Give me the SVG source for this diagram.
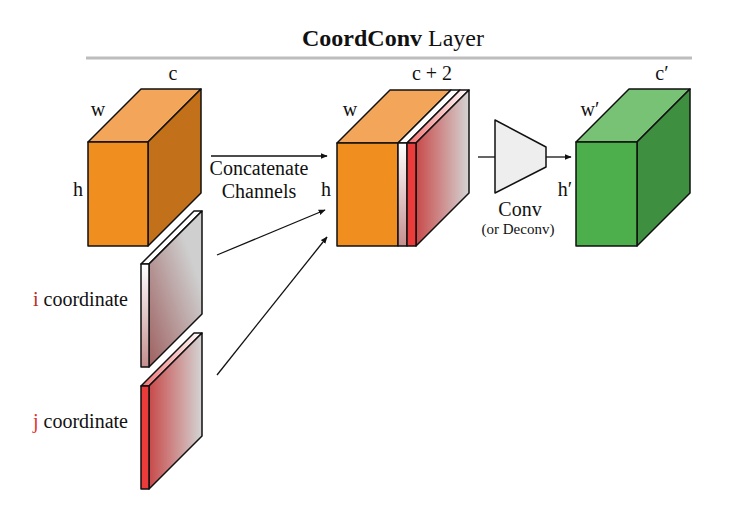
<svg xmlns="http://www.w3.org/2000/svg" width="739" height="512" viewBox="0 0 739 512">
<style>
text{font-family:"Liberation Serif","Times New Roman",serif;fill:#111;}
.lbl{font-size:20px;}
.sm{font-size:15px;}
.edge{stroke:#111;stroke-width:1.5;stroke-linejoin:round;}
.conn{stroke:#111;stroke-width:1.3;fill:none;marker-end:url(#ah);}
</style>
<defs>
<marker id="ah" viewBox="0 0 10 10" refX="9" refY="5" markerWidth="7" markerHeight="7" orient="auto" markerUnits="userSpaceOnUse">
<path d="M0,1 L10,5 L0,9 Z" fill="#111"/>
</marker>
<linearGradient id="iSide" x1="1" y1="0" x2="0" y2="1">
<stop offset="0.25" stop-color="#cfcfcf"/>
<stop offset="1" stop-color="#9e6060"/>
</linearGradient>
<linearGradient id="iFront" x1="0" y1="0" x2="0" y2="1">
<stop offset="0" stop-color="#ffffff"/>
<stop offset="1" stop-color="#c58e8e"/>
</linearGradient>
<linearGradient id="jSide" x1="0" y1="0" x2="1" y2="0">
<stop offset="0" stop-color="#c84a4a"/>
<stop offset="1" stop-color="#d4d4d4"/>
</linearGradient>
<linearGradient id="jTop" x1="0" y1="0" x2="1" y2="0">
<stop offset="0" stop-color="#f07070"/>
<stop offset="1" stop-color="#ffffff"/>
</linearGradient>
</defs>

<g id="title">
<text x="393" y="46" text-anchor="middle" style="font-size:24px"><tspan font-weight="bold">CoordConv</tspan> Layer</text>
<line x1="86" y1="58" x2="692" y2="58" stroke="#bdbdbd" stroke-width="3"/>
</g>

<g id="input-cube">
<polygon class="edge" points="88,142 148,142 201,89 141,89" fill="#f3a65a"/>
<polygon class="edge" points="148,142 201,89 201,193 148,246" fill="#c2701a"/>
<rect class="edge" x="88" y="142" width="60" height="104" fill="#f08f20"/>
<text class="lbl" x="98" y="116" text-anchor="middle">w</text>
<text class="lbl" x="173" y="80" text-anchor="middle">c</text>
<text class="lbl" x="78" y="196" text-anchor="middle">h</text>
</g>

<g id="i-coordinate">
<polygon class="edge" points="141,264 149,264 202,211 194,211" fill="#ffffff"/>
<polygon class="edge" points="149,264 202,211 202,314 149,367" fill="url(#iSide)"/>
<rect class="edge" x="141" y="264" width="8" height="103" fill="url(#iFront)"/>
<text class="lbl" x="33" y="306"><tspan fill="#b52a2a">i</tspan> coordinate</text>
</g>

<g id="j-coordinate">
<polygon class="edge" points="141,386 149,386 202,333 194,333" fill="url(#jTop)"/>
<polygon class="edge" points="149,386 202,333 202,436 149,489" fill="url(#jSide)"/>
<rect class="edge" x="141" y="386" width="8" height="103" fill="#ec3b3b"/>
<text class="lbl" x="33" y="428"><tspan fill="#e03030">j</tspan> coordinate</text>
</g>

<g id="concat-cube">
<polygon class="edge" points="337,143 398,143 451,90 390,90" fill="#f3a65a"/>
<polygon class="edge" points="398,143 407,143 460,90 451,90" fill="#ffffff"/>
<polygon class="edge" points="407,143 416,143 469,90 460,90" fill="url(#jTop)"/>
<polygon class="edge" points="416,143 469,90 469,193 416,246" fill="url(#jSide)"/>
<rect class="edge" x="337" y="143" width="61" height="103" fill="#f08f20"/>
<rect class="edge" x="398" y="143" width="9" height="103" fill="url(#iFront)"/>
<rect class="edge" x="407" y="143" width="9" height="103" fill="#ec3b3b"/>
<text class="lbl" x="350" y="116" text-anchor="middle">w</text>
<text class="lbl" x="432" y="80" text-anchor="middle">c + 2</text>
<text class="lbl" x="326" y="196" text-anchor="middle">h</text>
</g>

<g id="conv">
<polygon class="edge" points="495,120 546,147 546,167 495,193" fill="#eeeeee" stroke-width="1.2"/>
<text class="lbl" x="520" y="216" text-anchor="middle">Conv</text>
<text class="sm" x="518" y="234" text-anchor="middle">(or Deconv)</text>
</g>

<g id="output-cube">
<polygon class="edge" points="576,142 637,142 690,89 629,89" fill="#77c275"/>
<polygon class="edge" points="637,142 690,89 690,193 637,246" fill="#3e8f40"/>
<rect class="edge" x="576" y="142" width="61" height="104" fill="#4daf4c"/>
<text class="lbl" x="590" y="116" text-anchor="middle">w′</text>
<text class="lbl" x="662" y="80" text-anchor="middle">c′</text>
<text class="lbl" x="565" y="196" text-anchor="middle">h′</text>
</g>

<g id="connectors">
<line class="conn" x1="211" y1="156" x2="327" y2="156"/>
<line class="conn" x1="217" y1="255" x2="325" y2="210"/>
<line class="conn" x1="217" y1="375" x2="327" y2="237"/>
<line x1="478" y1="157" x2="495" y2="157" stroke="#111" stroke-width="1.3"/>
<line class="conn" x1="546" y1="157" x2="571" y2="157"/>
<text class="lbl" x="259" y="175" text-anchor="middle">Concatenate</text>
<text class="lbl" x="259" y="198" text-anchor="middle">Channels</text>
</g>
</svg>
